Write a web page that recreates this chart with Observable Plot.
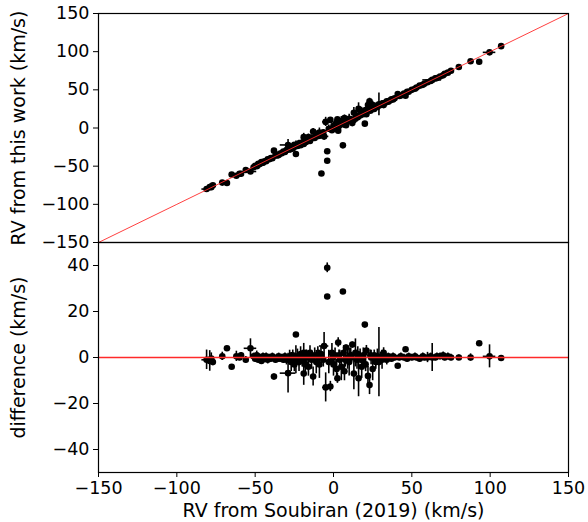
<!DOCTYPE html>
<html><head><meta charset="utf-8">
<script src="https://cdn.jsdelivr.net/npm/d3@7"></script>
<script src="https://cdn.jsdelivr.net/npm/@observablehq/plot@0.6"></script>
<style>
body{margin:0;background:#fff;}
#chart svg{display:block;}
</style>
</head><body><div id="chart"></div>
<script>
// RV from Soubiran (2019), km/s
const rvSoubiran = [-81,-79,-78,-77,-71,-68,-65,-62,-60,-59,
 -56,-53,-51,-50,-49,-48.5,-48,-47,-46,-45.5,
 -45,-44,-43,-42,-41,-40,-39,-38,-37,-36,
 -35.5,-35,-34,-33,-32,-31,-30,-29,-28,-27.5,
 -27,-26,-25.5,-25,-24,-24,-23,-22.5,-22,-21,
 -20,-19,-19,-18,-17.5,-17,-16,-15,-14.5,-14,
 -13,-12,-11,-10,-9.5,-9,-8,-7.7,-6.5,-6,
 -5,-4,-4,-3,-2,-1,-0.5,0,1,2,
 2.5,3,3.5,4,5,6,6.5,7,7.5,8,
 9,10,11,11.5,12,13,14,15,15.5,16,
 17,18,18.5,19,20,20.5,21,22,23,23.5,
 24,25,26,27,27.5,28,29,30,31,32,
 33,34,35,36,37,38,39,41,42,43,
 45,46,47,48,50,52,53,55,57,58,
 60,62,63,65,66,68,70,71,73,75,
 80,87.5,93,99.6,107];
// difference = Soubiran - this work, km/s
const rvDiff = [-1,-1.5,-0.5,-2,0.5,4,-4,0.5,0,1,
 -1,4,0.5,-0.5,1,0.5,-1,0,-1.5,0,
 0.5,-0.5,0.5,-1,0,-0.5,0.5,-8.3,-1,0,
 -0.5,0.5,-0.5,0,-1,0.5,-1,-6.8,0,0.5,
 -2,1,-0.5,-3,10,-1,0.5,0,-2,1.5,
 -1,-7,2,-3,1,0,-4,2,0,-1,
 -8.3,1,-2,0.5,1,-3,1.5,52,-1,5,
 -13,39,26.5,-2,-12.6,2,0,-3,1,-5,
 -9,6.5,1,-1,-4,28.7,2,-6,-1,4.3,
 0,-2,1,0,5.6,-7,2,-1,1.5,-9,
 0.5,-4,-1,1,14.3,-3,3,-8,-12,1,
 0,-5,1,-2,-1,0.5,-2,0,-1,2,
 0,-1,0.5,0,-0.5,0.5,0,-3.6,0,0.5,
 0,3.6,-0.5,0.5,0,0.5,0,-0.5,0.5,0,
 0,0.5,0,0,0.5,0.5,1,0,0.5,0,
 0,0,6.2,0.5,-0.2];
const errSoubiran = [3,2,1.5,1,1,0.5,0.5,1,1,0.5,
 1,4,1,1,1.5,1,1,1,1,1,
 1,1.5,1,1,1,1,1,0.5,1,1,
 1,1,1,1,1,1,1,5,1,1,
 1,1,1,1,0.5,1,1,1,1,1,
 1,1,1,1,1,1,1,1,1,1,
 1,1,1,1,1,1,1,1,1,3,
 2,1.5,0.5,1,1,1,1,1,1,1,
 1,0.5,1,1,1,0.5,1,1,1,0.5,
 1,1,1,1,0.5,1,1,1,1,1,
 1,1,1,1,0.5,1,1,1,1,1,
 1,1,1,1,1,1,1,1,1,1,
 1,1,1,1,1,1,1,0.5,1,1,
 1,0.5,1,1,1,1,1,1,1,1,
 2,1,6,1,1,1,1,1,1,1,
 0.5,0.5,0.5,4,0.5];
const errThisWork = [3,4,2,1,1.5,0.5,0.5,2,1,1,
 1,1,1,1,1,1,1,1,1,1,
 1,1,1,1.5,1,1,1,1,1,1,
 1,1,1,1,1,1,2,7,3,1,
 4,2,1,3,0.5,6,3,1,4,3,
 3,5,4,5,2,3,4,3,2,4,
 4,3,5,4,2,6,3,1,3,5,
 6,1.5,0.5,5,2,4,2,5,3,4,
 2,2,2,4,6,0.5,3,4,3,1,
 5,6,3,2,1,7,6,4,3,8,
 3,5,2,3,0.5,3,2,4,4,2,
 3,5,2,3,2,3,15,2,4,2,
 2,2,1,1,1,1,1,0.5,1,1,
 1,0.5,1,1,1,1,1,1,1,1,
 1,1,1,1,1,1,1,1,1,1,
 1,1.5,0.5,3,0.5];

const xTicks = [-150,-100,-50,0,50,100,150];
const rvTicks = [-150,-100,-50,0,50,100,150];
const diffTicks = [-40,-20,0,20,40];
const xDomain = [-150,150];
const rvDomain = [-150,150];
const diffDomain = [-50,50];
const refDiff = [0];

const rows = rvSoubiran.map((x,i)=>({
  x, d: rvDiff[i], y: x - rvDiff[i],
  ex: errSoubiran[i], ey: errThisWork[i],
  ed: Math.hypot(errSoubiran[i], errThisWork[i])
}));

const FONT = "DejaVu Sans, sans-serif";
const TICK = 17.5, LABEL = 19;
const W = 588, ML = 98, MR = 20;
const RED = "#ff2a2a";

const topPlot = Plot.plot({
  width: W, height: 242, marginTop: 13, marginBottom: 0, marginLeft: ML, marginRight: MR,
  style: {fontFamily: FONT, fontSize: TICK + "px", color: "#000", background: "#fff", overflow: "visible"},
  x: {domain: xDomain, axis: null},
  y: {domain: rvDomain},
  marks: [
    Plot.ruleY(rows, {y: "y", x1: d => d.x - d.ex, x2: d => d.x + d.ex, stroke: "#000", strokeWidth: 1.6}),
    Plot.ruleX(rows, {x: "x", y1: d => d.y - d.ey, y2: d => d.y + d.ey, stroke: "#000", strokeWidth: 1.6}),
    Plot.dot(rows, {x: "x", y: "y", r: 3.3, fill: "#000", stroke: "none"}),
    Plot.line(rvTicks, {x: d => d, y: d => d, stroke: RED, strokeWidth: 0.9}),
    Plot.axisY({ticks: rvTicks, tickSize: 5, tickPadding: 4, label: null, fontSize: TICK}),
    Plot.text(["RV from this work (km/s)"], {frameAnchor: "left", textAnchor: "middle", lineAnchor: "middle", dx: -80, rotate: -90, fontSize: LABEL, fill: "#000"}),
    Plot.frame({stroke: "#000", strokeWidth: 1.2})
  ]
});

const botPlot = Plot.plot({
  width: W, height: 280, marginTop: 0, marginBottom: 50, marginLeft: ML, marginRight: MR,
  style: {fontFamily: FONT, fontSize: TICK + "px", color: "#000", background: "#fff", overflow: "visible"},
  x: {domain: xDomain},
  y: {domain: diffDomain},
  marks: [
    Plot.ruleY(rows, {y: "d", x1: d => d.x - d.ex, x2: d => d.x + d.ex, stroke: "#000", strokeWidth: 1.6, clip: true}),
    Plot.ruleX(rows, {x: "x", y1: d => d.d - d.ed, y2: d => d.d + d.ed, stroke: "#000", strokeWidth: 1.6, clip: true}),
    Plot.dot(rows, {x: "x", y: "d", r: 3.3, fill: "#000", stroke: "none", clip: true}),
    Plot.ruleY(refDiff, {stroke: RED, strokeWidth: 1.3}),
    Plot.axisY({ticks: diffTicks, tickSize: 5, tickPadding: 4, label: null, fontSize: TICK}),
    Plot.axisX({ticks: xTicks, tickSize: 5, tickPadding: 4, label: null, fontSize: TICK}),
    Plot.text(["difference (km/s)"], {frameAnchor: "left", textAnchor: "middle", lineAnchor: "middle", dx: -80, rotate: -90, fontSize: LABEL, fill: "#000"}),
    Plot.text(["RV from Soubiran (2019) (km/s)"], {frameAnchor: "bottom", textAnchor: "middle", lineAnchor: "middle", dy: 38, fontSize: LABEL, fill: "#000"}),
    Plot.frame({stroke: "#000", strokeWidth: 1.2})
  ]
});

const el = document.getElementById("chart");
el.appendChild(topPlot);
el.appendChild(botPlot);
</script>
</body></html>
